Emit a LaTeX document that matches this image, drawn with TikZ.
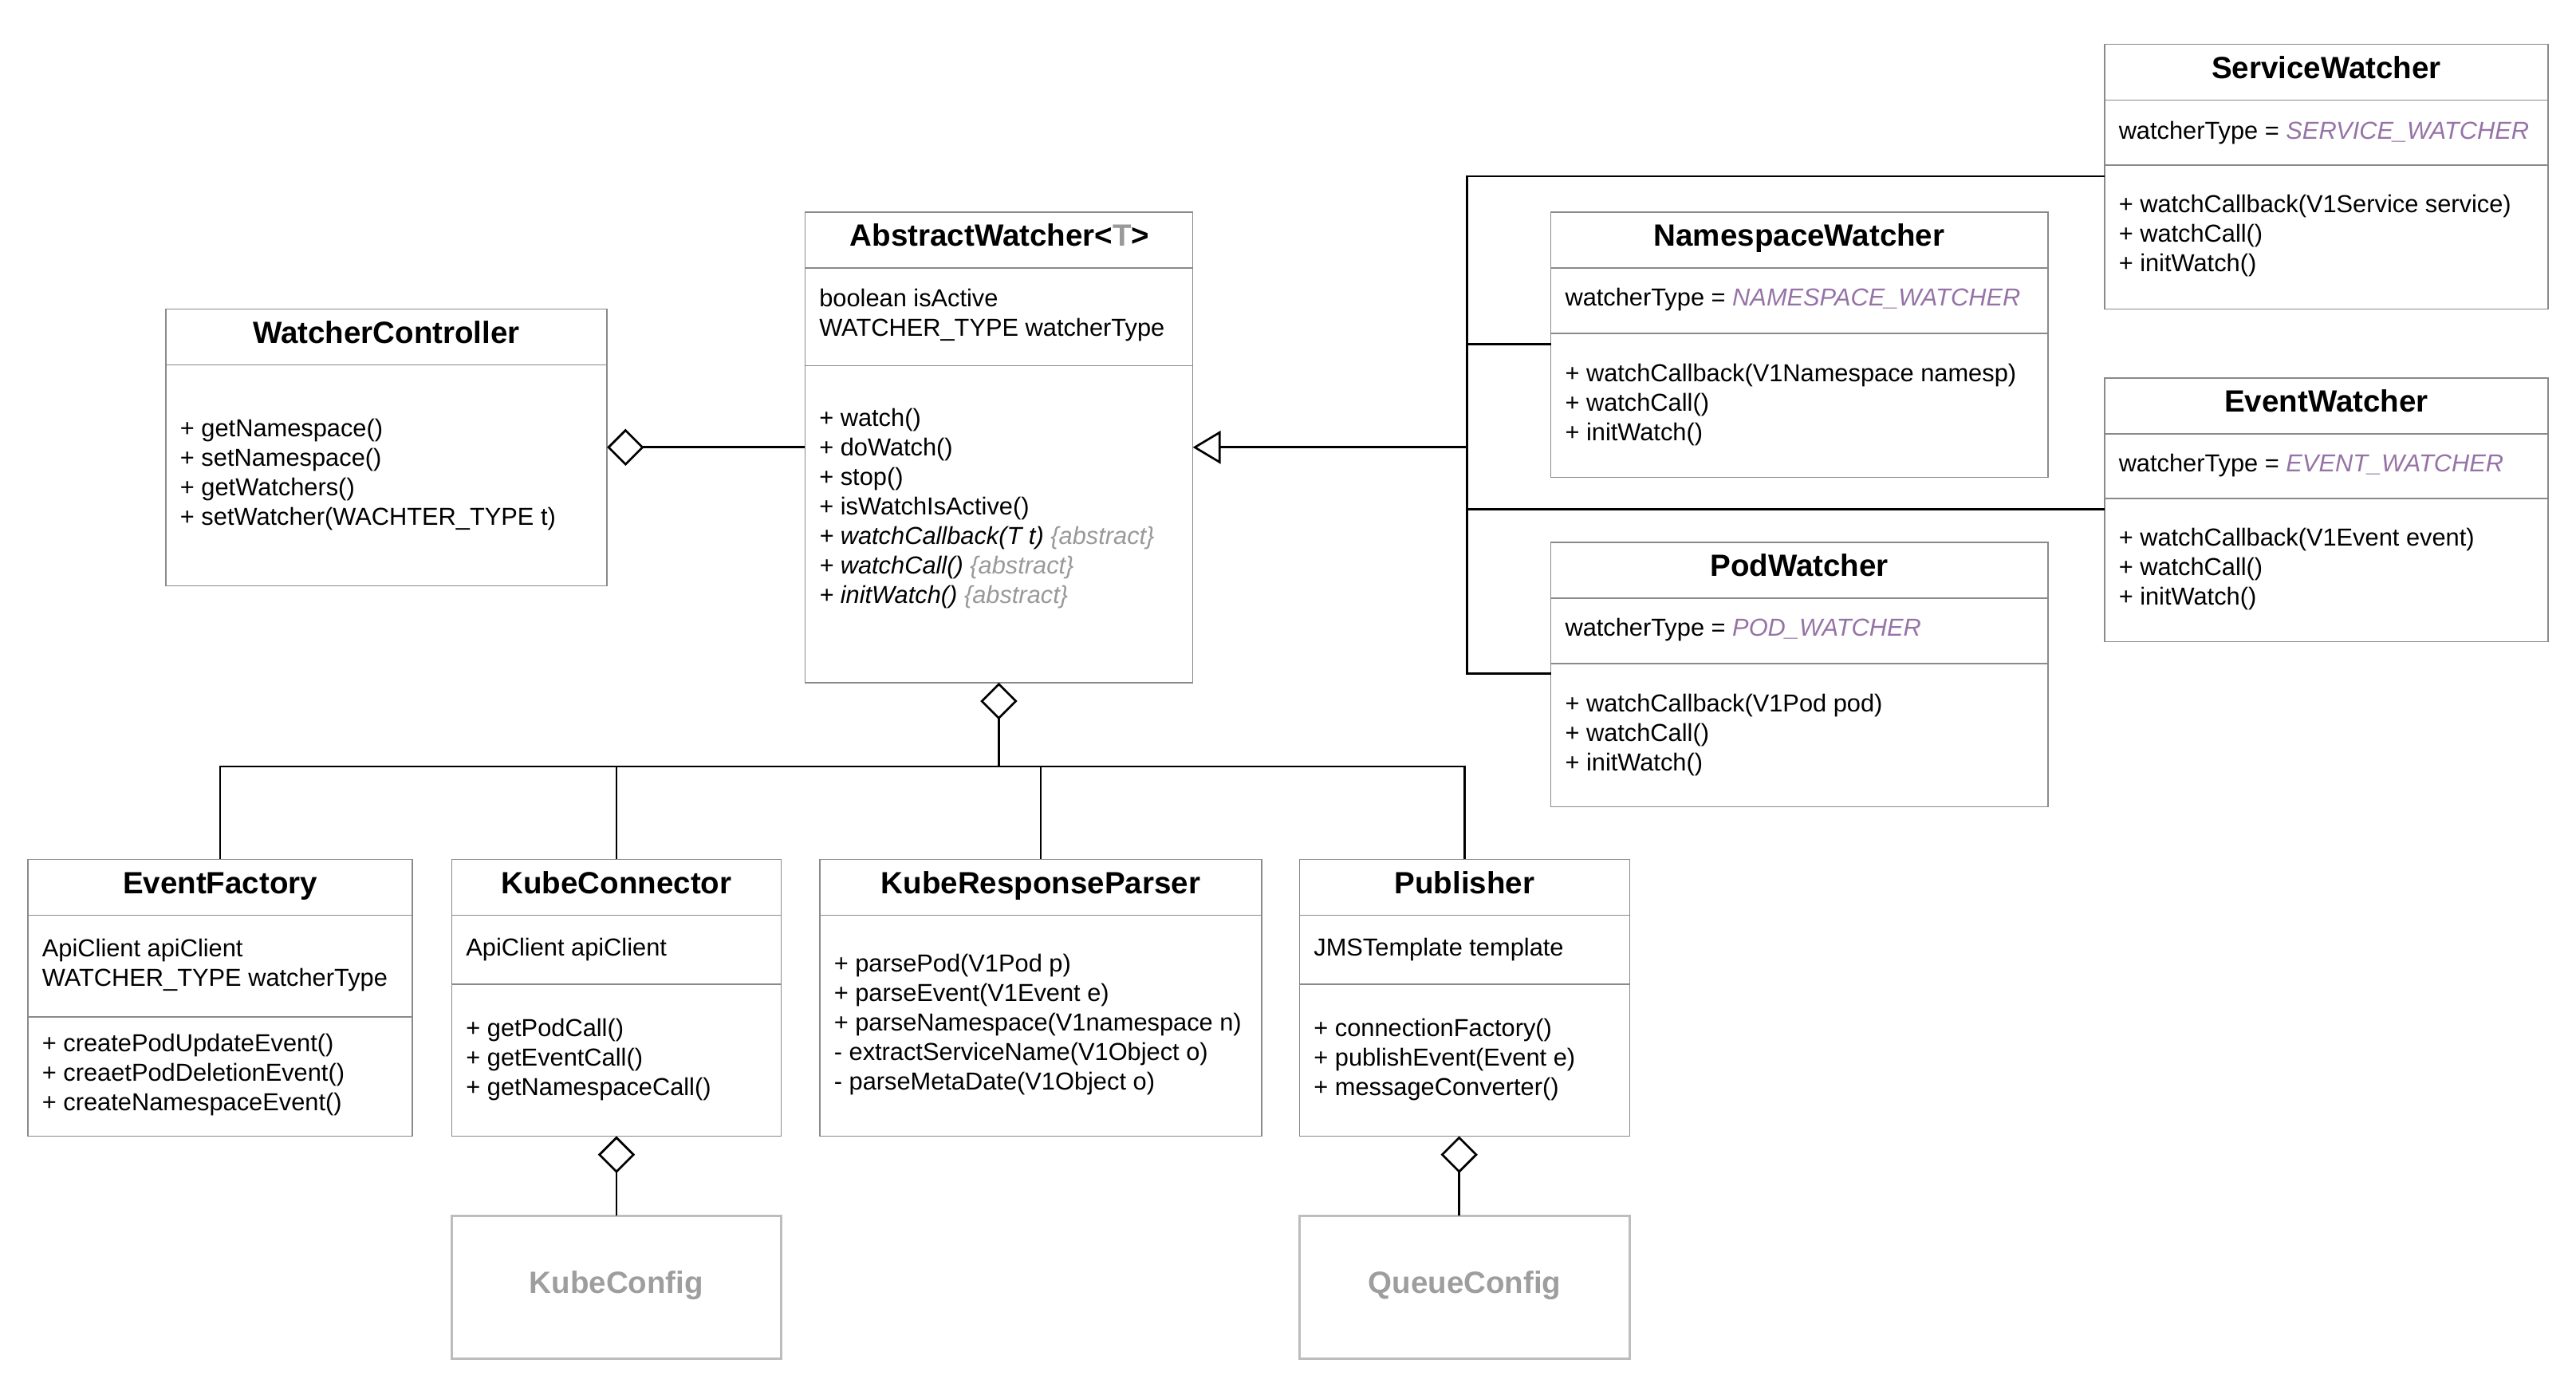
\documentclass[tikz,border=0pt]{standalone}
\usepackage{fontspec}
\setmainfont{Liberation Sans}
\usetikzlibrary{arrows.meta}

\definecolor{boxgray}{HTML}{8A8A8A}
\definecolor{cfggray}{HTML}{BDBDBD}
\definecolor{cfgtext}{HTML}{9E9E9E}
\definecolor{enumpurple}{HTML}{9673A6}
\definecolor{notegray}{HTML}{999999}

\newcommand\bodyfont{\fontsize{14.95pt}{18pt}\selectfont}
\newcommand\titlefont{\fontsize{18.7pt}{22pt}\selectfont\bfseries}
\newcommand\enumval[1]{{\color{enumpurple}\itshape #1}}
\newcommand\abstr{{\color{notegray}\itshape\{abstract\}}}

\tikzset{
  cls/.style={draw=boxgray, line width=0.75pt, rectangle, inner sep=0pt,
              outer sep=0pt, anchor=north west},
  cfg/.style={draw=cfggray, line width=1.1pt, rectangle, inner sep=0pt,
              outer sep=0pt, anchor=north west, text=cfgtext, font=\titlefont},
  div/.style={draw=boxgray, line width=0.75pt},
  ttl/.style={anchor=base, inner sep=0pt, font=\titlefont},
  mem/.style={anchor=north west, inner sep=0pt, align=left, font=\bodyfont},
  conn/.style={draw=black, line width=1.3pt},
  agg/.style={{Diamond[open, length=22.5pt, width=22.5pt]}-},
  gen/.style={-{Triangle[open, length=17pt, width=20pt]}}
}

\begin{document}
\begin{tikzpicture}[x=1pt, y=-1pt]
\useasboundingbox (0,0) rectangle (1568,846.6);

% ---------- class frames ----------
\node[cls, minimum width=270pt,   minimum height=161pt]   (sw)  at (1281,27)  {};
\node[cls, minimum width=302.5pt, minimum height=161.5pt] (nw)  at (944,129)  {};
\node[cls, minimum width=270pt,   minimum height=160.5pt] (ew)  at (1281,230) {};
\node[cls, minimum width=302.5pt, minimum height=161pt]   (pw)  at (944,330)  {};
\node[cls, minimum width=236pt,   minimum height=286.5pt] (aw)  at (490,129)  {};
\node[cls, minimum width=268.5pt, minimum height=168.5pt] (wc)  at (101,188)  {};
\node[cls, minimum width=234pt,   minimum height=168.5pt] (ef)  at (17,523)   {};
\node[cls, minimum width=200.5pt, minimum height=168.5pt] (kc)  at (275,523)  {};
\node[cls, minimum width=269pt,   minimum height=168.5pt] (krp) at (499,523)  {};
\node[cls, minimum width=201pt,   minimum height=168.5pt] (pub) at (791,523)  {};
\node[cfg, minimum width=200.5pt, minimum height=87pt] (kcfg) at (275,740) {};
\node[cfg, minimum width=201pt,   minimum height=87pt] (qcfg) at (791,740) {};

% ---------- compartment dividers ----------
\draw[div] ([yshift=-34pt]sw.north west) -- ([yshift=-34pt]sw.north east);
\draw[div] ([yshift=-73.5pt]sw.north west) -- ([yshift=-73.5pt]sw.north east);
\draw[div] ([yshift=-34pt]nw.north west) -- ([yshift=-34pt]nw.north east);
\draw[div] ([yshift=-74pt]nw.north west) -- ([yshift=-74pt]nw.north east);
\draw[div] ([yshift=-34pt]ew.north west) -- ([yshift=-34pt]ew.north east);
\draw[div] ([yshift=-73.5pt]ew.north west) -- ([yshift=-73.5pt]ew.north east);
\draw[div] ([yshift=-34pt]pw.north west) -- ([yshift=-34pt]pw.north east);
\draw[div] ([yshift=-74pt]pw.north west) -- ([yshift=-74pt]pw.north east);
\draw[div] ([yshift=-34pt]aw.north west) -- ([yshift=-34pt]aw.north east);
\draw[div] ([yshift=-93.5pt]aw.north west) -- ([yshift=-93.5pt]aw.north east);
\draw[div] ([yshift=-34pt]wc.north west) -- ([yshift=-34pt]wc.north east);
\draw[div] ([yshift=-34pt]ef.north west) -- ([yshift=-34pt]ef.north east);
\draw[div] ([yshift=-96pt]ef.north west) -- ([yshift=-96pt]ef.north east);
\draw[div] ([yshift=-34pt]kc.north west) -- ([yshift=-34pt]kc.north east);
\draw[div] ([yshift=-76pt]kc.north west) -- ([yshift=-76pt]kc.north east);
\draw[div] ([yshift=-34pt]krp.north west) -- ([yshift=-34pt]krp.north east);
\draw[div] ([yshift=-34pt]pub.north west) -- ([yshift=-34pt]pub.north east);
\draw[div] ([yshift=-76pt]pub.north west) -- ([yshift=-76pt]pub.north east);

% ---------- class names ----------
\node[ttl] (swT)  at (1416,47.8)   {ServiceWatcher};
\node[ttl] (nwT)  at (1095.2,149.8) {NamespaceWatcher};
\node[ttl] (ewT)  at (1416,250.8)  {EventWatcher};
\node[ttl] (pwT)  at (1095.2,350.8) {PodWatcher};
\node[ttl] (awT)  at (608.5,149.8) {AbstractWatcher<{\color{notegray}T}>};
\node[ttl] (wcT)  at (235.2,208.8) {WatcherController};
\node[ttl] (efT)  at (134,543.8)   {EventFactory};
\node[ttl] (kcT)  at (375.2,543.8) {KubeConnector};
\node[ttl] (krpT) at (633.5,543.8) {KubeResponseParser};
\node[ttl] (pubT) at (891.5,543.8) {Publisher};
\node[ttl, text=cfgtext] (kcfgT) at (375.2,787.2) {KubeConfig};
\node[ttl, text=cfgtext] (qcfgT) at (891.5,787.2) {QueueConfig};

% ---------- attributes and operations ----------
\node[mem] (swA) at (1289.5,71.7)  {\strut watcherType = \enumval{SERVICE\_WATCHER}};
\node[mem] (swM) at (1289.5,116.5) {\strut + watchCallback(V1Service service)\\+ watchCall()\\+ initWatch()};

\node[mem] (nwA) at (952.5,173.2) {\strut watcherType = \enumval{NAMESPACE\_WATCHER}};
\node[mem] (nwM) at (952.5,219.3) {\strut + watchCallback(V1Namespace namesp)\\+ watchCall()\\+ initWatch()};

\node[mem] (ewA) at (1289.5,274.3) {\strut watcherType = \enumval{EVENT\_WATCHER}};
\node[mem] (ewM) at (1289.5,319.6) {\strut + watchCallback(V1Event event)\\+ watchCall()\\+ initWatch()};

\node[mem] (pwA) at (952.5,374.4) {\strut watcherType = \enumval{POD\_WATCHER}};
\node[mem] (pwM) at (952.5,420.3) {\strut + watchCallback(V1Pod pod)\\+ watchCall()\\+ initWatch()};

\node[mem] (awA) at (498.5,174) {\strut boolean isActive\\WATCHER\_TYPE watcherType};
\node[mem] (awM) at (498.5,246.5) {\strut + watch()\\+ doWatch()\\+ stop()\\+ isWatchIsActive()\\
  {\itshape + watchCallback(T t)} \abstr\\
  {\itshape + watchCall()} \abstr\\
  {\itshape + initWatch()} \abstr};

\node[mem] (wcM) at (109.5,252.8) {\strut + getNamespace()\\+ setNamespace()\\+ getWatchers()\\+ setWatcher(WACHTER\_TYPE t)};

\node[mem] (efA) at (25.5,569.4) {\strut ApiClient apiClient\\WATCHER\_TYPE watcherType};
\node[mem] (efM) at (25.5,627.4) {\strut + createPodUpdateEvent()\\+ creaetPodDeletionEvent()\\+ createNamespaceEvent()};

\node[mem] (kcA) at (283.5,569) {\strut ApiClient apiClient};
\node[mem] (kcM) at (283.5,618) {\strut + getPodCall()\\+ getEventCall()\\+ getNamespaceCall()};

\node[mem] (krpM) at (507.5,578.5) {\strut + parsePod(V1Pod p)\\+ parseEvent(V1Event e)\\+ parseNamespace(V1namespace n)\\- extractServiceName(V1Object o)\\- parseMetaDate(V1Object o)};

\node[mem] (pubA) at (799.5,569) {\strut JMSTemplate template};
\node[mem] (pubM) at (799.5,618) {\strut + connectionFactory()\\+ publishEvent(Event e)\\+ messageConverter()};

% ---------- junction points ----------
\coordinate (hub) at (893,272.25);
\coordinate (tTop) at (893,107.3);
\coordinate (tNs) at (893,209.6);
\coordinate (tEv) at (893,310);
\coordinate (tBot) at (893,410);
\coordinate (bus) at (608,466.5);

% ---------- relations ----------
\draw[conn, agg] (wc.east) -- (aw.west);

\draw[conn, gen] (hub) -- (aw.east);
\draw[conn] (sw.west |- tTop) -- (tTop) -- (tBot) -- (pw.west |- tBot);
\draw[conn] (tNs) -- (nw.west |- tNs);
\draw[conn] (tEv) -- (ew.west |- tEv);

\draw[conn, agg] (aw.south) -- (bus);
\draw[conn] (ef.north) |- (bus) -| (pub.north);
\draw[conn] (kc.north) -- (kc.north |- bus);
\draw[conn] (krp.north) -- (krp.north |- bus);

\draw[conn, agg] (kc.south) -- (kcfg.north);
\draw[conn, agg] ([xshift=-3.3pt]pub.south) -- ([xshift=-3.3pt]qcfg.north);
\end{tikzpicture}
\end{document}
